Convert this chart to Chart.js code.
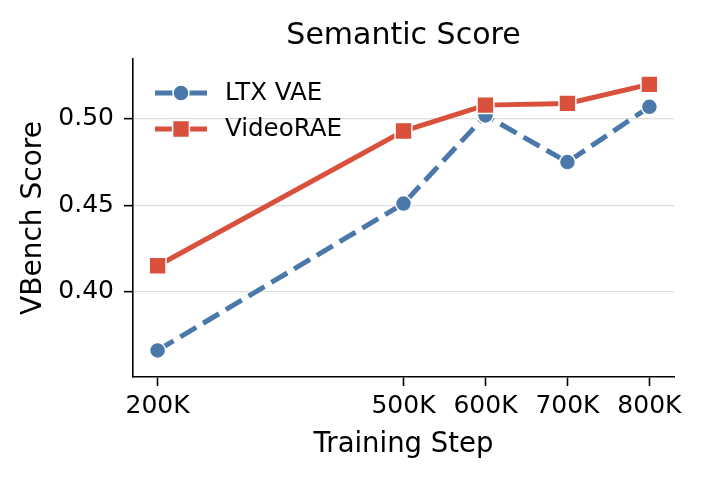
<!DOCTYPE html>
<html>
<head>
<meta charset="utf-8">
<title>Semantic Score</title>
<script src="https://cdn.jsdelivr.net/npm/chart.js@4.4.1/dist/chart.umd.min.js"></script>
<style>
  html, body { margin: 0; padding: 0; background: #fff; }
  #wrap { width: 701px; height: 479px; }
</style>
</head>
<body>
<div id="wrap"><canvas id="chart" width="701" height="479"></canvas></div>
<script>
// values
const steps = [200, 500, 600, 700, 800];            // training step, in K
const ltxVae = [0.366, 0.451, 0.502, 0.475, 0.507];
const videoRae = [0.415, 0.493, 0.508, 0.509, 0.520];
const yTicks = [0.40, 0.45, 0.50];

const BLUE = '#4a78aa';
const RED = '#d9503c';
const FONT = "'DejaVu Sans', sans-serif";

// draw a marker by hand so the legend can reuse it
function drawMarker(ctx, style, x, y, r, fill) {
    ctx.save();
    ctx.fillStyle = fill;
    ctx.strokeStyle = '#fff';
    ctx.lineWidth = 1.5;
    ctx.beginPath();
    if (style === 'rect') {
        const h = r * Math.SQRT1_2;
        ctx.rect(x - h, y - h, 2 * h, 2 * h);
    } else {
        ctx.arc(x, y, r, 0, Math.PI * 2);
    }
    ctx.fill();
    ctx.stroke();
    ctx.restore();
}

// title centred over the plot area (Chart.js centres it over the whole canvas)
const plotTitle = {
    id: 'plotTitle',
    afterDraw(chart) {
        const ctx = chart.ctx;
        const area = chart.chartArea;
        ctx.save();
        ctx.fillStyle = '#000';
        ctx.font = '30px ' + FONT;
        ctx.textAlign = 'center';
        ctx.textBaseline = 'middle';
        ctx.fillText('Semantic Score', (area.left + area.right) / 2, 36);
        ctx.restore();
    }
};

// matplotlib-style legend: short line with the marker in the middle, no frame
const lineLegend = {
    id: 'lineLegend',
    afterDatasetsDraw(chart) {
        const ctx = chart.ctx;
        const area = chart.chartArea;
        const x0 = area.left + 22;
        const rows = [
            { ds: chart.data.datasets[0], y: area.top + 34 },
            { ds: chart.data.datasets[1], y: area.top + 70 }
        ];
        rows.forEach(row => {
            const ds = row.ds;
            ctx.save();
            ctx.strokeStyle = ds.borderColor;
            ctx.lineWidth = ds.borderWidth;
            ctx.beginPath();
            ctx.moveTo(x0, row.y);
            ctx.lineTo(x0 + 52, row.y);
            ctx.stroke();
            ctx.restore();
            drawMarker(ctx, ds.pointStyle, x0 + 26, row.y, ds.pointRadius, ds.pointBackgroundColor);
            ctx.save();
            ctx.fillStyle = '#000';
            ctx.font = '24.5px ' + FONT;
            ctx.textBaseline = 'middle';
            ctx.textAlign = 'left';
            ctx.fillText(ds.label, x0 + 70, row.y + 1);
            ctx.restore();
        });
    }
};

const ctx = document.getElementById('chart');

new Chart(ctx, {
    type: 'line',
    data: {
        datasets: [{
            label: 'LTX VAE',
            data: steps.map((s, i) => ({ x: s, y: ltxVae[i] })),
            borderColor: BLUE,
            backgroundColor: BLUE,
            borderWidth: 5,
            borderDash: [18.5, 8],
            pointStyle: 'circle',
            pointRadius: 8,
            pointBackgroundColor: BLUE,
            pointBorderColor: '#fff',
            pointBorderWidth: 1.5,
            order: 1,
            clip: false
        }, {
            label: 'VideoRAE',
            data: steps.map((s, i) => ({ x: s, y: videoRae[i] })),
            borderColor: RED,
            backgroundColor: RED,
            borderWidth: 5,
            pointStyle: 'rect',
            pointRadius: 11.9,
            pointBackgroundColor: RED,
            pointBorderColor: '#fff',
            pointBorderWidth: 1.5,
            order: 0,
            clip: false
        }]
    },
    options: {
        responsive: false,
        animation: false,
        devicePixelRatio: 1,
        layout: {
            padding: { left: 0, right: 27, top: 59, bottom: 0 }
        },
        plugins: {
            legend: { display: false },
            tooltip: { enabled: false },
            title: { display: false }
        },
        scales: {
            x: {
                type: 'linear',
                min: 170,
                max: 830,
                afterBuildTicks: scale => {
                    scale.ticks = steps.map(v => ({ value: v }));
                },
                afterFit: scale => {
                    scale.height = 102;
                },
                grid: {
                    drawOnChartArea: false,
                    drawTicks: true,
                    tickLength: 9,
                    tickColor: '#000',
                    tickWidth: 1.6
                },
                border: { display: true, color: '#000', width: 1.6 },
                ticks: {
                    color: '#000',
                    font: { family: FONT, size: 25 },
                    padding: 5,
                    maxRotation: 0,
                    autoSkip: false,
                    callback: v => v + 'K'
                },
                title: {
                    display: true,
                    text: 'Training Step',
                    color: '#000',
                    font: { family: FONT, size: 27.5 },
                    padding: { top: 0, bottom: 17.5 }
                }
            },
            y: {
                min: 0.3506,
                max: 0.5347,
                afterBuildTicks: scale => {
                    scale.ticks = yTicks.map(v => ({ value: v }));
                },
                afterFit: scale => {
                    scale.width = 133;
                },
                grid: {
                    color: '#dddddd',
                    lineWidth: 1.3,
                    drawTicks: true,
                    tickLength: 9,
                    tickColor: '#000',
                    tickWidth: 1.6
                },
                border: { display: true, color: '#000', width: 1.6 },
                ticks: {
                    color: '#000',
                    font: { family: FONT, size: 25 },
                    padding: 10,
                    callback: v => v.toFixed(2)
                },
                title: {
                    display: true,
                    text: 'VBench Score',
                    color: '#000',
                    font: { family: FONT, size: 28 },
                    padding: { top: 16.5, bottom: 0 }
                }
            }
        }
    },
    plugins: [lineLegend, plotTitle]
});
</script>
</body>
</html>
